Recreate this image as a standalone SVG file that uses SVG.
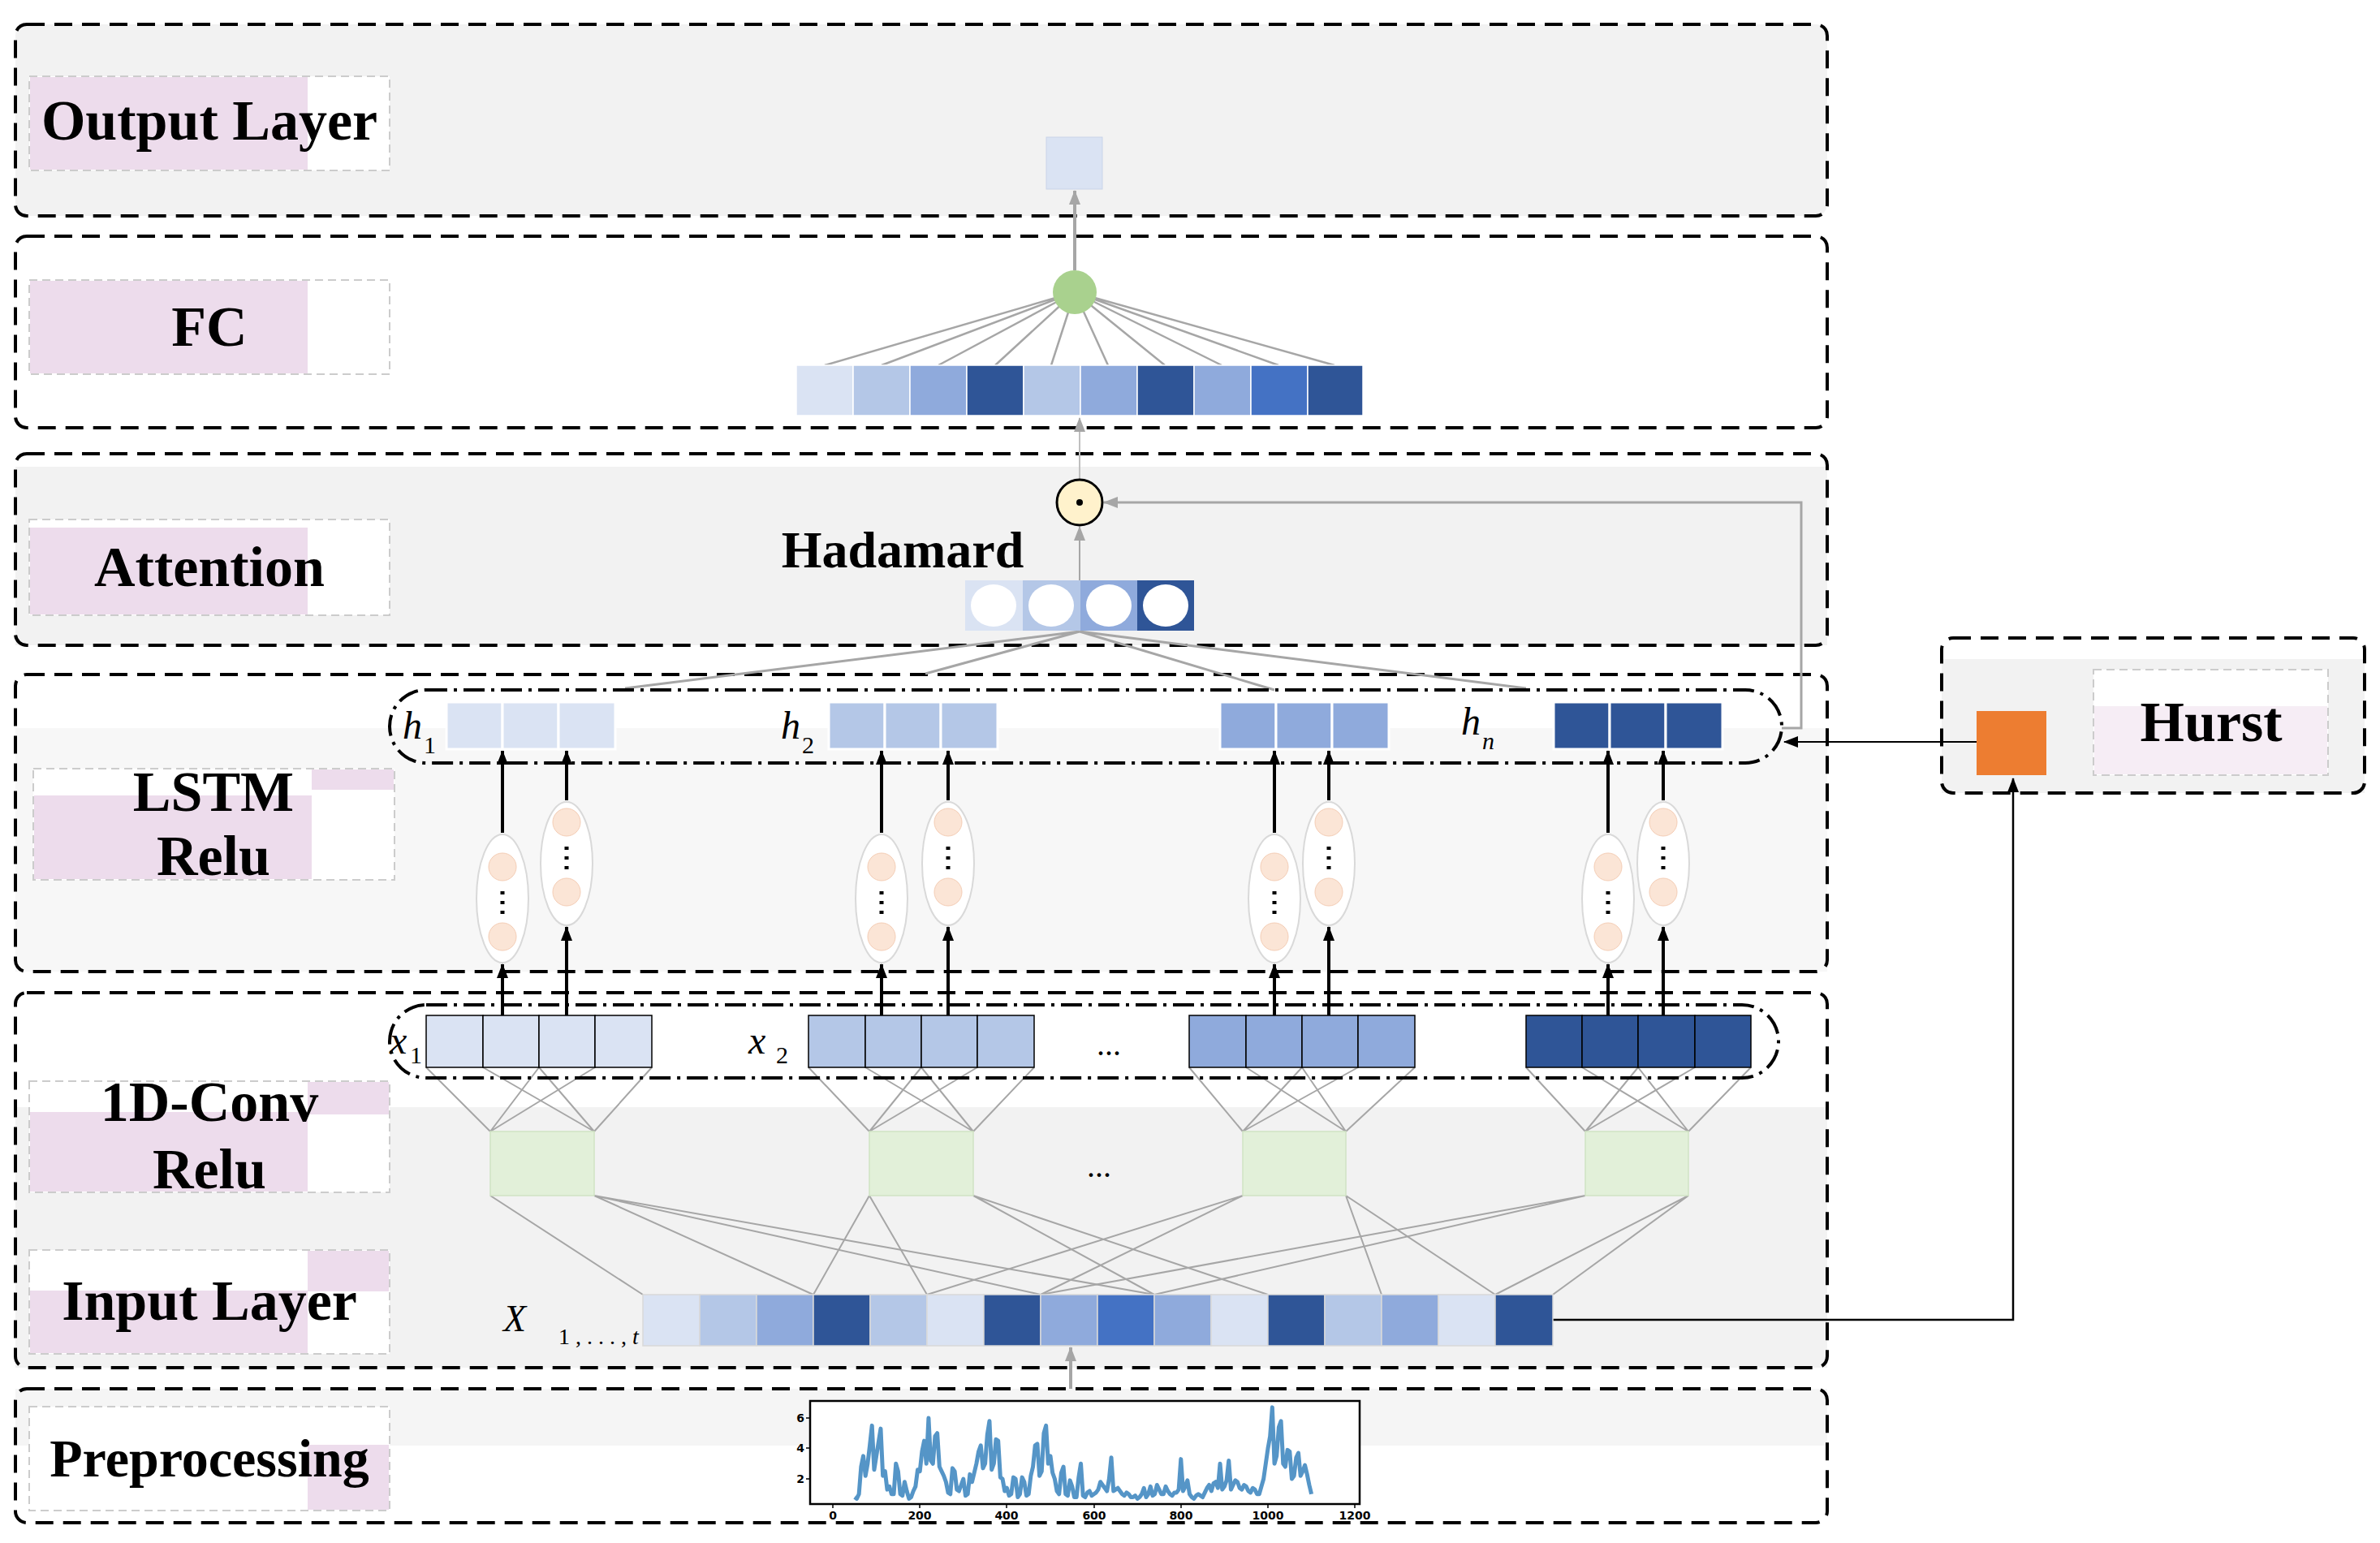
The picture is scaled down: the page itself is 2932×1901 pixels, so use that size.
<svg xmlns="http://www.w3.org/2000/svg" width="2932" height="1901" viewBox="0 0 2932 1901">
<style>
.panel{fill:none;stroke:#000;stroke-width:4;stroke-dasharray:22,12}
.lbox{fill:#fff;stroke:#ccc;stroke-width:2;stroke-dasharray:10,6}
.pink{fill:#eddcec}
.lab{font-family:"Liberation Serif",serif;font-weight:bold;font-size:70px;fill:#000;text-anchor:middle}
.it{font-family:"Liberation Serif",serif;font-style:italic;font-size:48px;fill:#000}
.sub{font-family:"Liberation Serif",serif;font-size:30px;fill:#000}
.gl{stroke:#a6a6a6;stroke-width:2.5;fill:none}
.ga{stroke:#a6a6a6;stroke-width:4;fill:none;marker-end:url(#ag)}
.ba{stroke:#000;stroke-width:4;fill:none;marker-end:url(#abk)}
.dd{fill:none;stroke:#000;stroke-width:4;stroke-dasharray:26,8,4,8}
.c1{fill:#dae3f3}.c2{fill:#b4c7e7}.c3{fill:#8faadc}.c4{fill:#2f5597}.c5{fill:#4472c4}
.neu{fill:#fff;stroke:#d9d9d9;stroke-width:2}
.or{fill:#fbe5d6;stroke:#f4cdb5;stroke-width:1}
.tk{font-family:"DejaVu Sans",sans-serif;font-weight:bold;font-size:14px;fill:#000;text-anchor:middle}
</style>
<defs>
<marker id="ag" markerWidth="18" markerHeight="14" refX="17" refY="7" orient="auto" markerUnits="userSpaceOnUse"><path d="M0,0 L18,7 L0,14 z" fill="#a6a6a6"/></marker>
<marker id="abk" markerWidth="18" markerHeight="14" refX="17" refY="7" orient="auto" markerUnits="userSpaceOnUse"><path d="M0,0 L18,7 L0,14 z" fill="#000"/></marker>
</defs>
<rect width="2932" height="1901" fill="#fff"/>
<rect x="19" y="30" width="2232" height="236" rx="14" fill="#f2f2f2"/>
<rect x="19" y="575" width="2232" height="220" fill="#f2f2f2"/>
<rect x="19" y="897" width="2232" height="300" fill="#f7f7f7"/>
<rect x="19" y="1364" width="2232" height="321" fill="#f2f2f2"/>
<rect x="19" y="1711" width="2232" height="70" fill="#f5f5f5"/>
<rect x="2392" y="812" width="521" height="165" fill="#f2f2f2"/>
<g id="panels">
<rect class="panel" x="19" y="30" width="2232" height="236" rx="14"/>
<rect class="panel" x="19" y="291" width="2232" height="236" rx="14"/>
<rect class="panel" x="19" y="559" width="2232" height="236" rx="14"/>
<rect class="panel" x="19" y="831" width="2232" height="366" rx="14"/>
<rect class="panel" x="19" y="1223" width="2232" height="462" rx="14"/>
<rect class="panel" x="19" y="1711" width="2232" height="165" rx="14"/>
<rect class="panel" x="2392" y="786" width="521" height="191" rx="14"/>
</g>
<g id="labels">
<rect class="lbox" x="36" y="94" width="444" height="116"/><rect class="pink" x="37" y="95" width="342" height="114"/>
<text class="lab" x="258" y="172">Output Layer</text>
<rect class="lbox" x="36" y="345" width="444" height="116"/><rect class="pink" x="37" y="346" width="342" height="114"/>
<text class="lab" x="258" y="426">FC</text>
<rect class="lbox" x="36" y="640" width="444" height="118"/><rect class="pink" x="37" y="650" width="342" height="107"/>
<text class="lab" x="258" y="722">Attention</text>
<rect class="lbox" x="41" y="947" width="445" height="137"/><rect class="pink" x="42" y="980" width="342" height="103"/><rect class="pink" x="384" y="948" width="101" height="25"/>
<text class="lab" x="263" y="999">LSTM</text><text class="lab" x="263" y="1078">Relu</text>
<rect class="lbox" x="36" y="1332" width="444" height="137"/><rect class="pink" x="37" y="1370" width="342" height="98"/><rect class="pink" x="379" y="1333" width="100" height="40"/>
<text class="lab" x="258" y="1381">1D-Conv</text><text class="lab" x="258" y="1464">Relu</text>
<rect class="lbox" x="36" y="1540" width="444" height="128"/><rect class="pink" x="37" y="1590" width="342" height="77"/><rect class="pink" x="379" y="1541" width="100" height="50"/>
<text class="lab" x="258" y="1626">Input Layer</text>
<rect class="lbox" x="36" y="1733" width="444" height="128"/><rect class="pink" x="379" y="1780" width="100" height="80"/>
<text class="lab" x="258" y="1819" style="font-size:66px">Preprocessing</text>
<rect class="lbox" x="2579" y="825" width="289" height="130"/><rect class="pink" x="2580" y="870" width="287" height="84" opacity="0.5"/>
<text class="lab" x="2724" y="913">Hurst</text>
</g>
<g id="connectors">
<g class="gl">
<path d="M1324,360 L1016,450 M1324,360 L1086,450 M1324,360 L1156,450 M1324,360 L1226,450 M1324,360 L1295,450 M1324,360 L1365,450 M1324,360 L1435,450 M1324,360 L1505,450 M1324,360 L1575,450 M1324,360 L1644,450"/>
</g>
<path class="ga" d="M1324,333 L1324,235"/>
<path d="M1330,647 L1330,515" stroke="#bfbfbf" stroke-width="2" fill="none" marker-end="url(#ag)"/>
<path class="ga" d="M1330,715 L1330,649" style="stroke-width:2"/>
<g class="gl" style="stroke-width:3">
<path d="M1330,778 L770,848 M1330,778 L1140,830 M1330,778 L1570,850 M1330,778 L1880,848"/>
</g>
<path class="ga" d="M2195,897 L2219,897 L2219,619 L1360,619" style="stroke-width:3"/>
<path d="M2435,914 L2198,914" stroke="#000" stroke-width="2" fill="none" marker-end="url(#abk)"/>
<path d="M1913,1626 L2480,1626 L2480,959" stroke="#000" stroke-width="2.5" fill="none" marker-end="url(#abk)"/>
<path class="ga" d="M1319,1711 L1319,1660"/>
<g class="gl" style="stroke-width:2">
<path d="M604,1394 L525,1315 M604,1394 L664,1315 M604,1394 L733,1315 M732,1394 L595,1315 M732,1394 L664,1315 M732,1394 L803,1315"/>
<path d="M1071,1394 L996,1315 M1071,1394 L1135,1315 M1071,1394 L1204,1315 M1199,1394 L1066,1315 M1199,1394 L1135,1315 M1199,1394 L1274,1315"/>
<path d="M1531,1394 L1465,1315 M1531,1394 L1604,1315 M1531,1394 L1673,1315 M1658,1394 L1535,1315 M1658,1394 L1604,1315 M1658,1394 L1743,1315"/>
<path d="M1953,1394 L1880,1315 M1953,1394 L2018,1315 M1953,1394 L2088,1315 M2080,1394 L1949,1315 M2080,1394 L2018,1315 M2080,1394 L2157,1315"/>
<path d="M604,1473 L792,1595 M732,1473 L1002,1595 M732,1473 L1282,1595 M732,1473 L1422,1595"/>
<path d="M1071,1473 L1002,1595 M1071,1473 L1142,1595 M1199,1473 L1422,1595 M1199,1473 L1562,1595"/>
<path d="M1531,1473 L1142,1595 M1531,1473 L1282,1595 M1658,1473 L1702,1595 M1658,1473 L1842,1595"/>
<path d="M1953,1473 L1282,1595 M1953,1473 L1422,1595 M2080,1473 L1842,1595 M2080,1473 L1913,1595"/>
</g>
<g class="ba">
<path d="M619,1251 L619,1188"/><path d="M619,1026 L619,925"/>
<path d="M698,1251 L698,1142"/><path d="M698,986 L698,925"/>
<path d="M1086,1251 L1086,1188"/><path d="M1086,1026 L1086,925"/>
<path d="M1168,1251 L1168,1142"/><path d="M1168,986 L1168,925"/>
<path d="M1570,1251 L1570,1188"/><path d="M1570,1026 L1570,925"/>
<path d="M1637,1251 L1637,1142"/><path d="M1637,986 L1637,925"/>
<path d="M1981,1251 L1981,1188"/><path d="M1981,1026 L1981,925"/>
<path d="M2049,1251 L2049,1142"/><path d="M2049,986 L2049,925"/>
</g>
</g>
<g id="output"><rect x="1289" y="169" width="69" height="64" fill="#dae3f3" stroke="#c9d3e8" stroke-width="1"/></g>
<g id="fc-node"><circle cx="1324" cy="360" r="27" fill="#a9d18e"/></g>
<g id="fc-bar" stroke="#fff" stroke-width="1.5">
<rect class="c1" x="981" y="450" width="70" height="62"/><rect class="c2" x="1051" y="450" width="70" height="62"/><rect class="c3" x="1121" y="450" width="70" height="62"/><rect class="c4" x="1191" y="450" width="70" height="62"/><rect class="c2" x="1261" y="450" width="70" height="62"/><rect class="c3" x="1331" y="450" width="70" height="62"/><rect class="c4" x="1401" y="450" width="70" height="62"/><rect class="c3" x="1471" y="450" width="70" height="62"/><rect class="c5" x="1541" y="450" width="70" height="62"/><rect class="c4" x="1611" y="450" width="68" height="62"/>
</g>
<g id="hadamard"><circle cx="1330" cy="619" r="28" fill="#fff2cc" stroke="#000" stroke-width="3"/><circle cx="1330" cy="619" r="4" fill="#000"/>
<text class="lab" x="1112" y="699" style="font-size:64px">Hadamard</text></g>
<g id="attention-bar">
<rect class="c1" x="1189" y="715" width="71" height="62"/><rect class="c2" x="1260" y="715" width="71" height="62"/><rect class="c3" x="1331" y="715" width="70" height="62"/><rect class="c4" x="1401" y="715" width="70" height="62"/>
<g fill="#fff"><ellipse cx="1224" cy="746" rx="28" ry="26"/><ellipse cx="1295" cy="746" rx="28" ry="26"/><ellipse cx="1366" cy="746" rx="28" ry="26"/><ellipse cx="1436" cy="746" rx="28" ry="26"/></g>
</g>
<g id="lstm-h">
<rect class="dd" x="480" y="850" width="1715" height="90" rx="45"/>
<g stroke="#fff" stroke-width="3">
<rect class="c1" x="550" y="865" width="69" height="58"/><rect class="c1" x="619" y="865" width="69" height="58"/><rect class="c1" x="688" y="865" width="70" height="58"/>
<rect class="c2" x="1021" y="865" width="69" height="58"/><rect class="c2" x="1090" y="865" width="69" height="58"/><rect class="c2" x="1159" y="865" width="70" height="58"/>
<rect class="c3" x="1503" y="865" width="69" height="58"/><rect class="c3" x="1572" y="865" width="69" height="58"/><rect class="c3" x="1641" y="865" width="70" height="58"/>
<rect class="c4" x="1914" y="865" width="69" height="58"/><rect class="c4" x="1983" y="865" width="69" height="58"/><rect class="c4" x="2052" y="865" width="70" height="58"/>
</g>
<text class="it" x="496" y="910">h</text><text class="sub" x="522" y="928">1</text>
<text class="it" x="962" y="910">h</text><text class="sub" x="988" y="928">2</text>
<text class="it" x="1800" y="905">h</text><text class="sub" x="1826" y="923" font-style="italic">n</text>
</g>
<g id="lstm-neurons">
<g id="n1"><ellipse class="neu" cx="619" cy="1107" rx="32" ry="79"/><circle class="or" cx="619" cy="1068" r="17"/><circle class="or" cx="619" cy="1154" r="17"/><path d="M619,1098 v4 M619,1110 v4 M619,1122 v4" stroke="#000" stroke-width="5"/>
<ellipse class="neu" cx="698" cy="1064" rx="32" ry="76"/><circle class="or" cx="698" cy="1013" r="17"/><circle class="or" cx="698" cy="1099" r="17"/><path d="M698,1043 v4 M698,1055 v4 M698,1067 v4" stroke="#000" stroke-width="5"/></g>
<g id="n2"><ellipse class="neu" cx="1086" cy="1107" rx="32" ry="79"/><circle class="or" cx="1086" cy="1068" r="17"/><circle class="or" cx="1086" cy="1154" r="17"/><path d="M1086,1098 v4 M1086,1110 v4 M1086,1122 v4" stroke="#000" stroke-width="5"/>
<ellipse class="neu" cx="1168" cy="1064" rx="32" ry="76"/><circle class="or" cx="1168" cy="1013" r="17"/><circle class="or" cx="1168" cy="1099" r="17"/><path d="M1168,1043 v4 M1168,1055 v4 M1168,1067 v4" stroke="#000" stroke-width="5"/></g>
<g id="n3"><ellipse class="neu" cx="1570" cy="1107" rx="32" ry="79"/><circle class="or" cx="1570" cy="1068" r="17"/><circle class="or" cx="1570" cy="1154" r="17"/><path d="M1570,1098 v4 M1570,1110 v4 M1570,1122 v4" stroke="#000" stroke-width="5"/>
<ellipse class="neu" cx="1637" cy="1064" rx="32" ry="76"/><circle class="or" cx="1637" cy="1013" r="17"/><circle class="or" cx="1637" cy="1099" r="17"/><path d="M1637,1043 v4 M1637,1055 v4 M1637,1067 v4" stroke="#000" stroke-width="5"/></g>
<g id="n4"><ellipse class="neu" cx="1981" cy="1107" rx="32" ry="79"/><circle class="or" cx="1981" cy="1068" r="17"/><circle class="or" cx="1981" cy="1154" r="17"/><path d="M1981,1098 v4 M1981,1110 v4 M1981,1122 v4" stroke="#000" stroke-width="5"/>
<ellipse class="neu" cx="2049" cy="1064" rx="32" ry="76"/><circle class="or" cx="2049" cy="1013" r="17"/><circle class="or" cx="2049" cy="1099" r="17"/><path d="M2049,1043 v4 M2049,1055 v4 M2049,1067 v4" stroke="#000" stroke-width="5"/></g>
</g>
<g id="conv-x">
<rect class="dd" x="480" y="1238" width="1711" height="90" rx="45"/>
<g stroke="#000" stroke-width="1.5">
<rect class="c1" x="525" y="1251" width="70" height="64"/><rect class="c1" x="595" y="1251" width="69" height="64"/><rect class="c1" x="664" y="1251" width="69" height="64"/><rect class="c1" x="733" y="1251" width="70" height="64"/>
<rect class="c2" x="996" y="1251" width="70" height="64"/><rect class="c2" x="1066" y="1251" width="69" height="64"/><rect class="c2" x="1135" y="1251" width="69" height="64"/><rect class="c2" x="1204" y="1251" width="70" height="64"/>
<rect class="c3" x="1465" y="1251" width="70" height="64"/><rect class="c3" x="1535" y="1251" width="69" height="64"/><rect class="c3" x="1604" y="1251" width="69" height="64"/><rect class="c3" x="1673" y="1251" width="70" height="64"/>
<rect class="c4" x="1880" y="1251" width="69" height="64"/><rect class="c4" x="1949" y="1251" width="69" height="64"/><rect class="c4" x="2018" y="1251" width="70" height="64"/><rect class="c4" x="2088" y="1251" width="69" height="64"/>
</g>
<text class="it" x="480" y="1298">x</text><text class="sub" x="505" y="1310">1</text>
<text class="it" x="922" y="1298">x</text><text class="sub" x="956" y="1310">2</text>
<text class="lab" x="1366" y="1300" style="font-weight:normal;font-size:40px">...</text>
</g>
<g id="conv-boxes" fill="#e2f0d9" stroke="#d0e3c4" stroke-width="1.5">
<rect x="604" y="1394" width="128" height="79"/><rect x="1071" y="1394" width="128" height="79"/><rect x="1531" y="1394" width="127" height="79"/><rect x="1953" y="1394" width="127" height="79"/>
</g>
<text class="lab" x="1354" y="1450" style="font-weight:normal;font-size:40px">...</text>
<g id="input-bar" stroke="#d9d9d9" stroke-width="1.5">
<rect class="c1" x="792" y="1595" width="70" height="63"/><rect class="c2" x="862" y="1595" width="70" height="63"/><rect class="c3" x="932" y="1595" width="70" height="63"/><rect class="c4" x="1002" y="1595" width="70" height="63"/><rect class="c2" x="1072" y="1595" width="70" height="63"/><rect class="c1" x="1142" y="1595" width="70" height="63"/><rect class="c4" x="1212" y="1595" width="70" height="63"/><rect class="c3" x="1282" y="1595" width="70" height="63"/><rect class="c5" x="1352" y="1595" width="70" height="63"/><rect class="c3" x="1422" y="1595" width="70" height="63"/><rect class="c1" x="1492" y="1595" width="70" height="63"/><rect class="c4" x="1562" y="1595" width="70" height="63"/><rect class="c2" x="1632" y="1595" width="70" height="63"/><rect class="c3" x="1702" y="1595" width="70" height="63"/><rect class="c1" x="1772" y="1595" width="70" height="63"/><rect class="c4" x="1842" y="1595" width="71" height="63"/>
</g>
<text class="it" x="620" y="1640" style="font-size:46px">X</text>
<text class="sub" x="688" y="1656" style="font-size:28px">1 , . . . , <tspan font-style="italic">t</tspan></text>
<g id="hurst-node"><rect x="2435" y="876" width="86" height="79" fill="#ed7d31"/></g>
<g id="plot">
<rect x="998" y="1726" width="677" height="127" fill="#fff" stroke="#000" stroke-width="2.5"/>
<path transform="translate(1026,1859.5) scale(0.536,-18.75)" vector-effect="non-scaling-stroke" fill="none" stroke="#2b7bba" stroke-width="5" stroke-linejoin="round" opacity="0.8" d="M50,0.8 L55,0.7 60,1 65,2.8 70,3.5 75,2.2 80,3 85,4.2 90,5.5 95,2.6 100,3.5 105,4.4 110,5.3 115,2.2 120,2.5 125,1.3 130,1.5 135,1 140,1 145,3 150,2.5 155,1 160,0.9 165,1.8 170,1.2 175,0.7 180,0.8 185,1.2 190,1.5 195,2.6 200,2.5 205,3.8 210,4.5 215,3 220,6 225,3.2 230,3 235,4.8 240,5 245,2.8 250,2.5 255,2.2 260,1.8 265,1.1 270,1 275,2.7 280,2.5 285,1.3 290,1.2 295,1.6 300,2 305,0.9 310,1 315,2.3 320,1.8 325,2.4 330,3 335,3.8 340,4.2 345,2.7 350,3 355,4.9 360,5.8 365,2.6 370,3 375,4.6 380,4.5 385,2.1 390,2 395,1.2 400,1.4 405,0.9 410,1 415,2.1 420,2 425,0.8 430,1 435,2.1 440,1.8 445,0.9 450,1 455,2.2 460,2.8 465,4.2 470,4.3 475,2.2 480,2.5 485,5 490,5.5 495,3 500,3.5 505,2.4 510,2 515,1.2 520,1 525,2.4 530,2.8 535,1 540,0.9 545,1.9 550,1.5 555,0.8 560,0.8 565,2.1 570,3 575,0.9 580,0.8 585,1.1 590,1.2 595,0.9 600,1 605,1.1 610,1.3 615,1.8 620,1.6 625,1.4 630,1.2 635,2 640,3.4 645,1.2 650,1.3 655,1.4 660,1.2 665,1 670,0.9 675,1.1 680,1 685,0.8 690,0.8 695,0.9 700,0.7 705,0.8 710,1 715,1.4 720,0.8 725,1 730,1.5 735,0.9 740,1 745,1.6 750,1.3 755,1 760,1 765,1.5 770,1.2 775,1 780,0.9 785,1.1 790,1.1 795,1.3 800,3.3 805,1.2 810,1.5 815,1.9 820,1 825,0.8 830,0.7 835,0.9 840,1 845,0.9 850,0.8 855,1.1 860,1.4 865,1.6 870,1.2 875,1.7 880,1.8 885,1.4 890,3 895,1.3 900,1.5 905,1.9 910,3.2 915,1.3 920,1.6 925,1.9 930,1.8 935,1.4 940,1.3 945,1.6 950,1.5 955,1.2 960,1.1 965,1.4 970,1.3 975,1 980,1 985,1.5 990,2 995,3 1000,4 1005,4.8 1010,6.7 1015,3 1020,3.5 1025,5.4 1030,5.8 1035,3 1040,2.8 1045,3.9 1050,3.8 1055,2 1060,2.2 1065,3.4 1070,3.7 1075,2.2 1080,2.5 1085,2.9 1090,2.3 1095,1.6 1100,1"/>
<g stroke="#000" stroke-width="1.5"><path d="M1026,1853 v5 M1133,1853 v5 M1240,1853 v5 M1348,1853 v5 M1455,1853 v5 M1562,1853 v5 M1669,1853 v5 M998,1822 h-5 M998,1784 h-5 M998,1747 h-5"/></g>
<text class="tk" x="1026" y="1872">0</text><text class="tk" x="1133" y="1872">200</text><text class="tk" x="1240" y="1872">400</text><text class="tk" x="1348" y="1872">600</text><text class="tk" x="1455" y="1872">800</text><text class="tk" x="1562" y="1872">1000</text><text class="tk" x="1669" y="1872">1200</text>
<text class="tk" x="986" y="1827">2</text><text class="tk" x="986" y="1789">4</text><text class="tk" x="986" y="1752">6</text>
</g>
</svg>
